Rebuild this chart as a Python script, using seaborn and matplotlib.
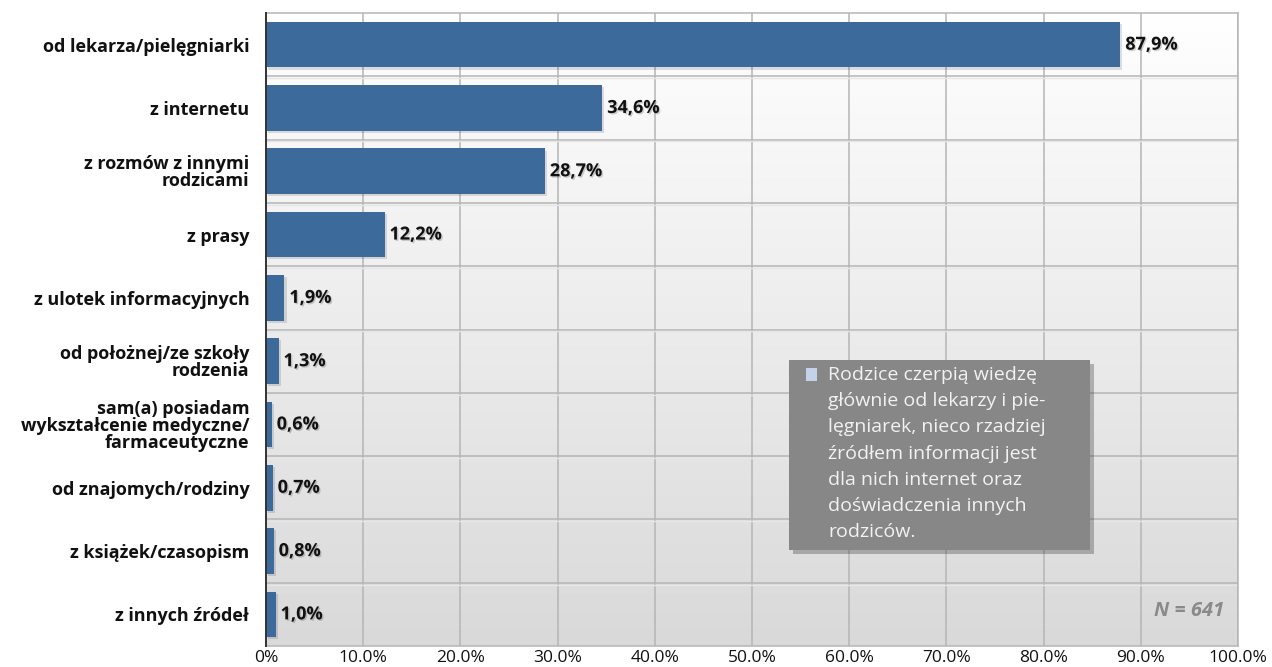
import numpy as np
import pandas as pd
import matplotlib
matplotlib.use("Agg")
import matplotlib.pyplot as plt
import matplotlib.patheffects as pe
from matplotlib.patches import Rectangle
import seaborn as sns

categories = [
    "od lekarza/pielęgniarki",
    "z internetu",
    "z rozmów z innymi\nrodzicami",
    "z prasy",
    "z ulotek informacyjnych",
    "od położnej/ze szkoły\nrodzenia",
    "sam(a) posiadam\nwykształcenie medyczne/\nfarmaceutyczne",
    "od znajomych/rodziny",
    "z książek/czasopism",
    "z innych źródeł",
]
values = [87.9, 34.6, 28.7, 12.2, 1.9, 1.3, 0.6, 0.7, 0.8, 1.0]
value_labels = ["87,9%", "34,6%", "28,7%", "12,2%", "1,9%", "1,3%", "0,6%", "0,7%", "0,8%", "1,0%"]
x_ticks = [0, 10, 20, 30, 40, 50, 60, 70, 80, 90, 100]
x_tick_labels = ["0%", "10.0%", "20.0%", "30.0%", "40.0%", "50.0%", "60.0%",
                 "70.0%", "80.0%", "90.0%", "100.0%"]
note_lines = [
    "Rodzice czerpią wiedzę",
    "głównie od lekarzy i pie-",
    "lęgniarek, nieco rzadziej",
    "źródłem informacji jest",
    "dla nich internet oraz",
    "doświadczenia innych",
    "rodziców.",
]
sample_note = "N = 641"

sns.set_theme(style="white")
plt.rcParams["font.family"] = ["Open Sans", "DejaVu Sans"]

df = pd.DataFrame({"source": categories, "pct": values})

fig = plt.figure(figsize=(12.72, 6.67), dpi=100)
fig.patch.set_facecolor("white")
ax = fig.add_axes([266 / 1272, 1 - 646 / 667, (1238 - 266) / 1272, (646 - 13) / 667])

# vertical gradient background, white at top to light grey at bottom
grad = np.linspace(0, 1, 256).reshape(-1, 1)
ax.imshow(grad, extent=[0, 100, len(categories) - 0.5, -0.5], aspect="auto",
          cmap=matplotlib.colors.LinearSegmentedColormap.from_list(
              "bg", ["#ffffff", "#d9d9d9"]), zorder=0, interpolation="bicubic")

sns.barplot(data=df, y="source", x="pct", orient="h", color="#3c6a9b",
            saturation=1, width=0.72, ax=ax, zorder=3)

shadow = [pe.SimplePatchShadow(offset=(1.5, -1.5), shadow_rgbFace="#000000", alpha=0.12),
          pe.Normal()]
for bar in ax.patches:
    bar.set_path_effects(shadow)
    bar.set_edgecolor("none")

ax.set_xlim(0, 100)
ax.set_ylim(len(categories) - 0.5, -0.5)

# grid: vertical at ticks, horizontal between categories
for xv in x_ticks[1:]:
    ax.axvline(xv, color="#b5b5b5", lw=1.1, zorder=1)
for yb in np.arange(0.5, len(categories) - 0.5, 1):
    ax.axhline(yb, color="#b5b5b5", lw=1.1, zorder=1)
    ax.axhline(yb + 0.03, color="#e6e6e6", lw=1.0, zorder=1)

ax.set_xticks(x_ticks)
ax.set_xticklabels(x_tick_labels, fontsize=12.5, color="#111111")
ax.set_yticks(range(len(categories)))
ax.set_yticklabels(categories, fontsize=13, fontweight="bold", color="#111111",
                   linespacing=0.92)
ax.tick_params(axis="y", length=0, pad=12)
ax.tick_params(axis="x", length=0, pad=3)
ax.set_xlabel("")
ax.set_ylabel("")

for side in ["top", "right", "bottom"]:
    ax.spines[side].set_color("#b5b5b5")
    ax.spines[side].set_linewidth(1.1)
ax.spines["left"].set_color("#333333")
ax.spines["left"].set_linewidth(1.4)
ax.spines["left"].set_zorder(5)

text_shadow = [pe.withSimplePatchShadow(offset=(1, -1), shadow_rgbFace="#000000", alpha=0.18)]
for i, (v, lab) in enumerate(zip(values, value_labels)):
    ax.text(v + 0.5, i, lab, va="center", ha="left", fontsize=13, fontweight="bold",
            color="#111111", zorder=6, path_effects=text_shadow)

# commentary box
box = Rectangle((0.538, 0.152), 0.310, 0.300, transform=ax.transAxes,
                facecolor="#878787", edgecolor="none", zorder=7,
                path_effects=[pe.SimplePatchShadow(offset=(3, -3), alpha=0.3), pe.Normal()])
ax.add_patch(box)
ax.add_patch(Rectangle((0.5555, 0.418), 0.0115, 0.0215, transform=ax.transAxes,
                       facecolor="#c5d3ea", edgecolor="none", zorder=8))
for k, line in enumerate(note_lines):
    ax.text(0.5785, 0.428 - k * 0.0413, line, transform=ax.transAxes,
            fontsize=14, color="#f2f2f2", va="center", ha="left", zorder=8)

ax.text(0.986, 0.055, sample_note, transform=ax.transAxes, fontsize=14.5,
        fontweight="bold", fontstyle="italic", color="#8a8a8a",
        ha="right", va="center", zorder=6)

fig.savefig("out.png", dpi=100)
